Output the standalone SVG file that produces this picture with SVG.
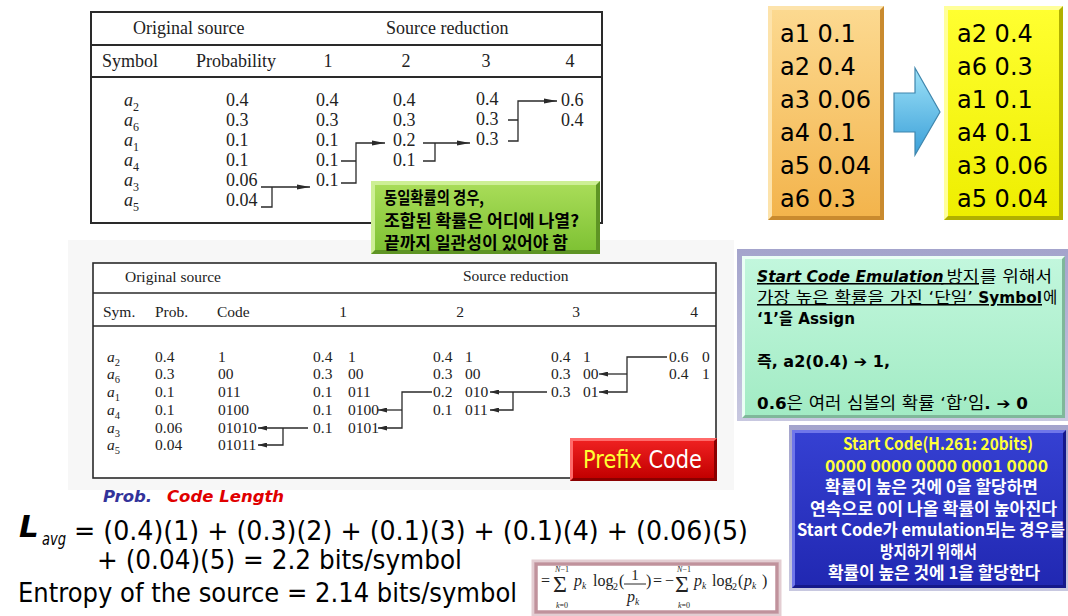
<svg xmlns="http://www.w3.org/2000/svg" width="1068" height="616" viewBox="0 0 1068 616">
<defs>
<style>
.sr{font-family:"Liberation Serif",serif;fill:#222}
.t18{font-size:18px}
.t15{font-size:15.5px}
.it{font-style:italic}
.ln{fill:none;stroke:#2a2a2a;stroke-width:1.3}
.dv{font-family:"DejaVu Sans",sans-serif}
.kr{font-family:"Noto Sans CJK KR",sans-serif;font-weight:bold}
.mx{font-family:"DejaVu Sans","Noto Sans CJK KR",sans-serif;font-size:15.5px;fill:#000}
.big{font-size:24px;fill:#000}
.eq{font-family:"DejaVu Sans",sans-serif;font-size:27px;fill:#000}
</style>
<marker id="ah1" markerUnits="userSpaceOnUse" markerWidth="13" markerHeight="6" refX="13" refY="3" orient="auto"><path d="M0,0.5 L13,3 L0,5.5 z" fill="#2a2a2a"/></marker>
<marker id="ah2" markerUnits="userSpaceOnUse" markerWidth="9" markerHeight="5" refX="9" refY="2.5" orient="auto"><path d="M0,0 L9,2.5 L0,5 z" fill="#2a2a2a"/></marker>
<linearGradient id="gOr" x1="0" y1="0" x2="0" y2="1"><stop offset="0" stop-color="#fcd990"/><stop offset="1" stop-color="#f3b44c"/></linearGradient>
<linearGradient id="gYe" x1="0" y1="0" x2="0" y2="1"><stop offset="0" stop-color="#ffff30"/><stop offset="1" stop-color="#eeee00"/></linearGradient>
<linearGradient id="gGr" x1="0" y1="0" x2="0" y2="1"><stop offset="0" stop-color="#a8dc58"/><stop offset="1" stop-color="#7fc234"/></linearGradient>
<linearGradient id="gRd" x1="0" y1="0" x2="0" y2="1"><stop offset="0" stop-color="#ee2020"/><stop offset="1" stop-color="#c20000"/></linearGradient>
<linearGradient id="gMi" x1="0" y1="0" x2="0" y2="1"><stop offset="0" stop-color="#c2f7dd"/><stop offset="1" stop-color="#a2ebc4"/></linearGradient>
<linearGradient id="gBl" x1="0" y1="0" x2="0" y2="1"><stop offset="0" stop-color="#3540d2"/><stop offset="1" stop-color="#2128b2"/></linearGradient>
<linearGradient id="gAr" x1="0" y1="0" x2="0" y2="1"><stop offset="0" stop-color="#9ee2f8"/><stop offset="1" stop-color="#3a9fd8"/></linearGradient>
<linearGradient id="gLv" x1="0" y1="0" x2="0" y2="1"><stop offset="0" stop-color="#a4a4cc"/><stop offset="1" stop-color="#c8c8e0"/></linearGradient>
</defs>
<rect width="1068" height="616" fill="#fff"/>

<!-- Top table -->
<g id="table1">
<rect x="91" y="12" width="511" height="211" fill="#fff" stroke="#2a2a2a" stroke-width="2"/>
<line x1="91" y1="45" x2="602" y2="45" stroke="#2a2a2a" stroke-width="1.8"/>
<line x1="91" y1="77" x2="602" y2="77" stroke="#2a2a2a" stroke-width="1.8"/>
<g class="sr t18">
<text x="133" y="34">Original source</text>
<text x="386" y="34">Source reduction</text>
<text x="102" y="67">Symbol</text>
<text x="196" y="67">Probability</text>
<text x="328" y="67" text-anchor="middle">1</text>
<text x="406" y="67" text-anchor="middle">2</text>
<text x="486" y="67" text-anchor="middle">3</text>
<text x="570" y="67" text-anchor="middle">4</text>
<text x="124" y="106" class="it">a<tspan dy="5" font-size="12" font-style="normal">2</tspan></text>
<text x="124" y="126" class="it">a<tspan dy="5" font-size="12" font-style="normal">6</tspan></text>
<text x="124" y="146" class="it">a<tspan dy="5" font-size="12" font-style="normal">1</tspan></text>
<text x="124" y="166" class="it">a<tspan dy="5" font-size="12" font-style="normal">4</tspan></text>
<text x="124" y="186" class="it">a<tspan dy="5" font-size="12" font-style="normal">3</tspan></text>
<text x="124" y="206" class="it">a<tspan dy="5" font-size="12" font-style="normal">5</tspan></text>
<text x="226" y="106">0.4</text><text x="226" y="126">0.3</text><text x="226" y="146">0.1</text>
<text x="226" y="166">0.1</text><text x="226" y="186">0.06</text><text x="226" y="206">0.04</text>
<text x="316" y="106">0.4</text><text x="316" y="126">0.3</text><text x="316" y="146">0.1</text>
<text x="316" y="166">0.1</text><text x="316" y="186">0.1</text>
<text x="393" y="106">0.4</text><text x="393" y="126">0.3</text><text x="393" y="146">0.2</text>
<text x="393" y="166">0.1</text>
<text x="476" y="105">0.4</text><text x="476" y="125">0.3</text><text x="476" y="145">0.3</text>
<text x="561" y="106">0.6</text><text x="561" y="126">0.4</text>
</g>
</g>

<!-- Bottom table -->
<g id="table2">
<rect x="68" y="240" width="666" height="250" fill="#f7f7f7"/>
<rect x="93" y="263" width="623" height="215" fill="#fff" stroke="#2a2a2a" stroke-width="1.6"/>
<line x1="93" y1="293" x2="716" y2="293" stroke="#2a2a2a" stroke-width="1.5"/>
<line x1="93" y1="326" x2="716" y2="326" stroke="#2a2a2a" stroke-width="1.5"/>
<g class="sr t15">
<text x="125" y="282">Original source</text>
<text x="463" y="281">Source reduction</text>
<text x="103" y="317">Sym.</text>
<text x="155" y="317">Prob.</text>
<text x="217" y="317">Code</text>
<text x="343" y="317" text-anchor="middle">1</text>
<text x="460" y="317" text-anchor="middle">2</text>
<text x="576" y="317" text-anchor="middle">3</text>
<text x="694" y="317" text-anchor="middle">4</text>
<text x="107" y="362" class="it">a<tspan dy="4" font-size="10.5" font-style="normal">2</tspan></text>
<text x="107" y="379" class="it">a<tspan dy="4" font-size="10.5" font-style="normal">6</tspan></text>
<text x="107" y="397" class="it">a<tspan dy="4" font-size="10.5" font-style="normal">1</tspan></text>
<text x="107" y="415" class="it">a<tspan dy="4" font-size="10.5" font-style="normal">4</tspan></text>
<text x="107" y="433" class="it">a<tspan dy="4" font-size="10.5" font-style="normal">3</tspan></text>
<text x="107" y="450" class="it">a<tspan dy="4" font-size="10.5" font-style="normal">5</tspan></text>
<text x="155" y="362">0.4</text><text x="155" y="379">0.3</text><text x="155" y="397">0.1</text>
<text x="155" y="415">0.1</text><text x="155" y="433">0.06</text><text x="155" y="450">0.04</text>
<text x="218" y="362">1</text><text x="218" y="379">00</text><text x="218" y="397">011</text>
<text x="218" y="415">0100</text><text x="218" y="433">01010</text><text x="218" y="450">01011</text>
<text x="313" y="362">0.4</text><text x="313" y="379">0.3</text><text x="313" y="397">0.1</text>
<text x="313" y="415">0.1</text><text x="313" y="433">0.1</text>
<text x="348" y="362">1</text><text x="348" y="379">00</text><text x="348" y="397">011</text>
<text x="348" y="415">0100</text><text x="348" y="433">0101</text>
<text x="433" y="362">0.4</text><text x="433" y="379">0.3</text><text x="433" y="397">0.2</text>
<text x="433" y="415">0.1</text>
<text x="465" y="362">1</text><text x="465" y="379">00</text><text x="465" y="397">010</text>
<text x="465" y="415">011</text>
<text x="551" y="362">0.4</text><text x="551" y="379">0.3</text><text x="551" y="397">0.3</text>
<text x="583" y="362">1</text><text x="583" y="379">00</text><text x="583" y="397">01</text>
<text x="669" y="362">0.6</text><text x="669" y="379">0.4</text>
<text x="702" y="362">0</text><text x="702" y="379">1</text>
</g>
</g>

<!-- Connectors -->
<g id="connectors">
<path class="ln" d="M261,207 H272 V187 M261,187 H310" marker-end="url(#ah1)"/>
<path class="ln" d="M341,161 H356 M341,183 H356 V143 H385" marker-end="url(#ah1)"/>
<path class="ln" d="M423,161 H435 V143 M423,143 H470" marker-end="url(#ah1)"/>
<path class="ln" d="M508,120 H518 M508,141 H518 V101 H557" marker-end="url(#ah1)"/>
<path class="ln" d="M308,428 H258" marker-end="url(#ah2)"/>
<path class="ln" d="M283,428 V445 H258" marker-end="url(#ah2)"/>
<path class="ln" d="M432,392 H402 V428 H378" marker-end="url(#ah2)"/>
<path class="ln" d="M402,410 H378" marker-end="url(#ah2)"/>
<path class="ln" d="M547,392 H490" marker-end="url(#ah2)"/>
<path class="ln" d="M513,392 V410 H490" marker-end="url(#ah2)"/>
<path class="ln" d="M667,357 H627 V392 H599" marker-end="url(#ah2)"/>
<path class="ln" d="M627,374 H599" marker-end="url(#ah2)"/>
</g>

<!-- Green note -->
<g id="note-green">
<rect x="371" y="181" width="229" height="73" fill="#5e9424"/>
<polygon points="371,181 600,181 596,185 375,185 375,250 371,254" fill="#cdef95"/>
<rect x="375" y="185" width="221" height="65" fill="url(#gGr)"/>
<g class="kr" font-size="17" fill="#000">
<text x="384" y="204" textLength="100" lengthAdjust="spacingAndGlyphs">동일확률의 경우,</text>
<text x="384" y="227" textLength="195" lengthAdjust="spacingAndGlyphs">조합된 확률은 어디에 나열?</text>
<text x="384" y="249" textLength="184" lengthAdjust="spacingAndGlyphs">끝까지 일관성이 있어야 함</text>
</g>
</g>

<!-- Prefix code -->
<g id="prefix-code">
<rect x="570" y="438" width="147" height="43" fill="#8a0000"/>
<polygon points="570,438 717,438 714,441 573,441 573,478 570,481" fill="#ff6a6a"/>
<rect x="573" y="441" width="141" height="37" fill="url(#gRd)"/>
<text x="583" y="468" class="dv" font-size="24" textLength="119" lengthAdjust="spacingAndGlyphs"><tspan fill="#ffff33">Prefix</tspan><tspan fill="#fff"> Code</tspan></text>
</g>

<!-- Orange list -->
<g id="list-original">
<rect x="768" y="6" width="116" height="214" fill="#c98a2e"/>
<polygon points="768,6 884,6 880,10 772,10 772,216 768,220" fill="#fde3ab"/>
<rect x="772" y="10" width="108" height="206" fill="url(#gOr)"/>
<g class="dv big">
<text x="780" y="42">a1 0.1</text><text x="780" y="75">a2 0.4</text><text x="780" y="108">a3 0.06</text>
<text x="780" y="141">a4 0.1</text><text x="780" y="174">a5 0.04</text><text x="780" y="207">a6 0.3</text>
</g>
</g>

<!-- Arrow -->
<g id="arrow-sort">
<polygon points="894,93 915,93 915,68 940,112 915,155 915,132 894,132" fill="url(#gAr)" stroke="#3f86ad" stroke-width="1.2"/>
</g>

<!-- Yellow list -->
<g id="list-sorted">
<rect x="944" y="6" width="119" height="214" fill="#b0b000"/>
<polygon points="944,6 1063,6 1059,10 948,10 948,216 944,220" fill="#ffff9a"/>
<rect x="948" y="10" width="111" height="206" fill="url(#gYe)"/>
<g class="dv big">
<text x="957" y="42">a2 0.4</text><text x="957" y="75">a6 0.3</text><text x="957" y="108">a1 0.1</text>
<text x="957" y="141">a4 0.1</text><text x="957" y="174">a3 0.06</text><text x="957" y="207">a5 0.04</text>
</g>
</g>

<!-- Mint note -->
<g id="note-emulation">
<rect x="737" y="249" width="331" height="172" fill="url(#gLv)"/>
<rect x="742" y="256" width="323" height="162" fill="#7fb89a"/>
<polygon points="742,256 1065,256 1062,259 745,259 745,415 742,418" fill="#eafff5"/>
<rect x="745" y="259" width="317" height="156" fill="url(#gMi)"/>
<text x="757" y="282" class="mx" font-weight="bold" font-style="italic" text-decoration="underline">Start Code Emulation</text>
<text x="941" y="282" class="mx" font-size="16.5" text-decoration="underline" textLength="38" lengthAdjust="spacingAndGlyphs">&#160;방지</text>
<text x="980" y="282" class="mx" font-size="16.5" textLength="72" lengthAdjust="spacingAndGlyphs">를 위해서</text>
<text x="757" y="303" class="mx" font-size="16.5" fill="#2a3fcf" text-decoration="underline" textLength="216" lengthAdjust="spacingAndGlyphs">가장 높은 확률을 가진 ‘단일’</text>
<text x="973" y="303" class="mx" font-weight="bold" fill="#2a3fcf" text-decoration="underline" textLength="69" lengthAdjust="spacingAndGlyphs">&#160;Symbol</text>
<text x="1043" y="303" class="mx" font-size="16.5">에</text>
<text x="757" y="324" class="mx" font-weight="bold" textLength="98" lengthAdjust="spacingAndGlyphs">‘1’을 Assign</text>
<text x="757" y="367" class="mx" font-weight="bold" textLength="133" lengthAdjust="spacingAndGlyphs">즉, a2(0.4) ➔ 1,</text>
<text x="757" y="409" class="mx" textLength="271" lengthAdjust="spacingAndGlyphs"><tspan font-weight="bold">0.6</tspan><tspan font-size="16.5">은 여러 심볼의 확률 ‘합’임</tspan><tspan font-weight="bold">. ➔ 0</tspan></text>
</g>

<!-- Blue note -->
<g id="note-startcode">
<rect x="789" y="425" width="279" height="166" fill="url(#gLv)"/>
<rect x="792" y="430" width="274" height="158" fill="#15188a"/>
<polygon points="792,430 1066,430 1063,433 795,433 795,585 792,588" fill="#6f76ea"/>
<rect x="795" y="433" width="268" height="152" fill="url(#gBl)"/>
<g class="kr" font-size="16.5">
<text x="843" y="450" fill="#ffff3a" textLength="190" lengthAdjust="spacingAndGlyphs">Start Code(H.261: 20bits)</text>
<text x="825" y="472" fill="#ffff3a" textLength="223" lengthAdjust="spacingAndGlyphs">0000 0000 0000 0001 0000</text>
<text x="825" y="493" fill="#fff" textLength="213" lengthAdjust="spacingAndGlyphs">확률이 높은 것에 0을 할당하면</text>
<text x="810" y="515" fill="#fff" textLength="247" lengthAdjust="spacingAndGlyphs">연속으로 0이 나올 확률이 높아진다</text>
<text x="797" y="536" fill="#fff" textLength="268" lengthAdjust="spacingAndGlyphs">Start Code가 emulation되는 경우를</text>
<text x="880" y="558" fill="#fff" textLength="97" lengthAdjust="spacingAndGlyphs">방지하기 위해서</text>
<text x="828" y="579" fill="#fff" textLength="212" lengthAdjust="spacingAndGlyphs">확률이 높은 것에 1을 할당한다</text>
</g>
</g>

<!-- Formula text -->
<g id="formula">
<text x="103" y="502" class="dv" font-size="16.5" font-weight="bold" font-style="italic" fill="#33339a">Prob.</text>
<text x="167" y="502" class="dv" font-size="16.5" font-weight="bold" font-style="italic" fill="#e00000">Code Length</text>
<text x="19" y="537" class="dv" font-size="31" font-weight="bold" font-style="italic" fill="#000">L</text>
<text x="42" y="545" class="dv" font-size="17" font-style="italic" fill="#000" textLength="24" lengthAdjust="spacingAndGlyphs">avg</text>
<text x="74" y="540" class="eq" textLength="674" lengthAdjust="spacingAndGlyphs">= (0.4)(1) + (0.3)(2) + (0.1)(3) + (0.1)(4) + (0.06)(5)</text>
<text x="97" y="569" class="eq" textLength="365" lengthAdjust="spacingAndGlyphs">+ (0.04)(5) = 2.2 bits/symbol</text>
<text x="18" y="602" class="eq" textLength="499" lengthAdjust="spacingAndGlyphs">Entropy of the source = 2.14 bits/symbol</text>
</g>

<!-- Entropy formula box -->
<g id="entropy-box">
<rect x="533" y="561" width="247" height="54" fill="none" stroke="#e3cdd2" stroke-width="3"/>
<rect x="536" y="564" width="241" height="48" fill="#fff" stroke="#c0929c" stroke-width="3.5"/>
<g class="sr" fill="#111">
<text x="541" y="586" font-size="16">=</text>
<text x="553" y="592" font-size="24">Σ</text>
<text x="562" y="572" font-size="8" text-anchor="middle"><tspan font-style="italic">N</tspan>−1</text>
<text x="562" y="608" font-size="8" text-anchor="middle"><tspan font-style="italic">k</tspan>=0</text>
<text x="574" y="586" font-size="16" font-style="italic">p</text>
<text x="582" y="589" font-size="9.5" font-style="italic">k</text>
<text x="593" y="586" font-size="16">log</text>
<text x="613" y="590" font-size="10">2</text>
<text x="619" y="586" font-size="16">(</text>
<text x="635" y="580" font-size="15" text-anchor="middle">1</text>
<line x1="624" y1="584" x2="646" y2="584" stroke="#111" stroke-width="0.9"/>
<text x="627" y="602" font-size="16" font-style="italic">p</text>
<text x="635" y="605" font-size="9.5" font-style="italic">k</text>
<text x="646" y="586" font-size="16">)</text>
<text x="653" y="586" font-size="16">=</text>
<text x="665" y="586" font-size="16">−</text>
<text x="675" y="592" font-size="24">Σ</text>
<text x="684" y="572" font-size="8" text-anchor="middle"><tspan font-style="italic">N</tspan>−1</text>
<text x="684" y="608" font-size="8" text-anchor="middle"><tspan font-style="italic">k</tspan>=0</text>
<text x="694" y="586" font-size="16" font-style="italic">p</text>
<text x="702" y="589" font-size="9.5" font-style="italic">k</text>
<text x="712" y="586" font-size="16">log</text>
<text x="732" y="590" font-size="10">2</text>
<text x="738" y="586" font-size="16">(</text>
<text x="744" y="586" font-size="16" font-style="italic">p</text>
<text x="752" y="589" font-size="9.5" font-style="italic">k</text>
<text x="762" y="586" font-size="16">)</text>
</g>
</g>
</svg>
